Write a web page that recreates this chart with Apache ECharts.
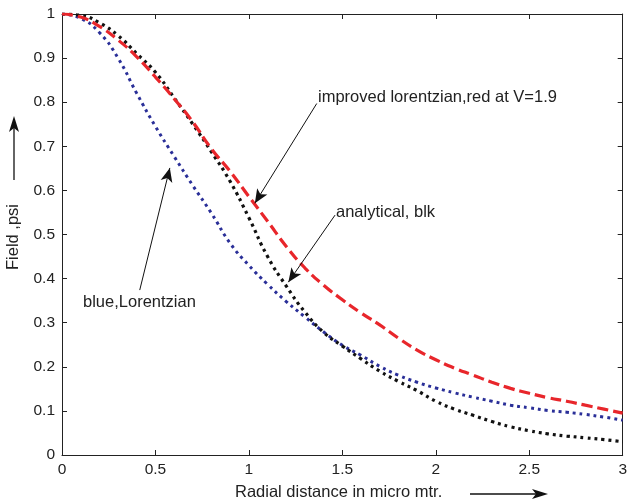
<!DOCTYPE html>
<html>
<head>
<meta charset="utf-8">
<script src="https://cdn.jsdelivr.net/npm/echarts@6/dist/echarts.min.js"></script>
<style>html,body{margin:0;padding:0;background:#fff}#c{width:630px;height:504px}</style>
</head>
<body>
<div id="c"></div>
<script>
const xValues = [0,0.1,0.2,0.3,0.4,0.5,0.6,0.7,0.8,0.9,1.0,1.1,1.2,1.3,1.4,1.5,1.6,1.7,1.8,1.9,2.0,2.1,2.2,2.3,2.4,2.5,2.6,2.7,2.8,2.9,3.0];
const blueLorentzian = [1.0,0.99,0.958,0.90,0.82,0.745,0.677,0.611,0.548,0.48,0.43,0.387,0.348,0.313,0.279,0.249,0.226,0.201,0.181,0.165,0.152,0.141,0.131,0.122,0.113,0.107,0.101,0.097,0.092,0.086,0.079];
const blackAnalytical = [1.0,0.997,0.98,0.951,0.91,0.868,0.81,0.75,0.687,0.62,0.538,0.45,0.383,0.324,0.278,0.247,0.218,0.19,0.167,0.146,0.122,0.104,0.09,0.076,0.064,0.055,0.048,0.043,0.039,0.035,0.03];
const redImproved = [1.0,0.993,0.972,0.941,0.903,0.857,0.808,0.755,0.694,0.643,0.586,0.53,0.473,0.424,0.385,0.352,0.322,0.295,0.265,0.238,0.216,0.197,0.181,0.165,0.151,0.14,0.13,0.122,0.113,0.104,0.095];
const xTicks = [0,0.5,1,1.5,2,2.5,3];
const yTicks = [0,0.1,0.2,0.3,0.4,0.5,0.6,0.7,0.8,0.9,1];
// annotation arrows in data coordinates: [from, to]
const arrowRed = [[1.363,0.797],[1.032,0.571]];
const arrowBlack = [[1.461,0.544],[1.211,0.392]];
const arrowBlue = [[0.416,0.374],[0.577,0.651]];
const texts = {
  red: 'improved lorentzian,red at V=1.9',
  black: 'analytical, blk',
  blue: 'blue,Lorentzian',
  xName: 'Radial distance in micro mtr.',
  yName: 'Field ,psi'
};

const pairs = (ys) => xValues.map((x,i)=>[x, ys[i]]);
const font = 'Liberation Sans, Arial, Helvetica, sans-serif';
const txt = '#222';
const tf = '16.5px ' + font;

const axisCommon = {
  axisLine: {show:true, onZero:false, lineStyle:{color:'#222', width:1}},
  axisTick: {show:true, inside:true, length:5, lineStyle:{color:'#222'}},
  splitLine: {show:false}
};

const chart = echarts.init(document.getElementById('c'), null, {renderer:'canvas'});
chart.setOption({
  animation:false,
  backgroundColor:'#fff',
  grid:{left:62, right:7, top:14, bottom:49, containLabel:false},
  xAxis:[
    Object.assign({type:'value', min:0, max:3, interval:0.5, position:'bottom',
      axisLabel:{color:txt, fontSize:15.5, fontFamily:font, margin:7}}, axisCommon),
    Object.assign({type:'value', min:0, max:3, interval:0.5, position:'top',
      axisLabel:{show:false}}, axisCommon)
  ],
  yAxis:[
    Object.assign({type:'value', min:0, max:1, interval:0.1, position:'left',
      axisLabel:{color:txt, fontSize:15.5, fontFamily:font, margin:7}}, axisCommon),
    Object.assign({type:'value', min:0, max:1, interval:0.1, position:'right',
      axisLabel:{show:false}}, axisCommon)
  ],
  series:[
    {type:'line', name:'blue', data:pairs(blueLorentzian), showSymbol:false, smooth:true,
      lineStyle:{color:'#2a2f98', width:3, type:[3,4], cap:'butt'}},
    {type:'line', name:'black', data:pairs(blackAnalytical), showSymbol:false, smooth:true,
      lineStyle:{color:'#111', width:3.2, type:[3,4], cap:'butt'}},
    {type:'line', name:'red', data:pairs(redImproved), showSymbol:false, smooth:true,
      lineStyle:{color:'#e8262b', width:3.2, type:[11,5], cap:'butt'},
      markLine:{silent:true, symbol:['none','arrow'], symbolSize:[9,14], animation:false,
        label:{show:false},
        lineStyle:{color:'#111', width:1, type:'solid'},
        emphasis:{disabled:true},
        data:[
          [{coord:arrowRed[0]},{coord:arrowRed[1]}],
          [{coord:arrowBlack[0]},{coord:arrowBlack[1]}],
          [{coord:arrowBlue[0]},{coord:arrowBlue[1]}]
        ]}}
  ],
  graphic:[
    {type:'text', x:318, y:97, style:{text:texts.red, font:tf, fill:txt, verticalAlign:'middle'}},
    {type:'text', x:336, y:212, style:{text:texts.black, font:tf, fill:txt, verticalAlign:'middle'}},
    {type:'text', x:83, y:302, style:{text:texts.blue, font:tf, fill:txt, verticalAlign:'middle'}},
    {type:'text', x:235, y:492, style:{text:texts.xName, font:tf, fill:txt, verticalAlign:'middle'}},
    {type:'text', x:13, y:237, rotation:Math.PI/2, style:{text:texts.yName, font:tf, fill:txt, align:'center', verticalAlign:'middle'}},
    {type:'line', shape:{x1:14, y1:180, x2:14, y2:122}, style:{stroke:'#111', lineWidth:1.3}},
    {type:'polygon', shape:{points:[[14,116],[9,132],[14,128],[19,132]]}, style:{fill:'#111'}},
    {type:'line', shape:{x1:470, y1:494, x2:542, y2:494}, style:{stroke:'#111', lineWidth:1.3}},
    {type:'polygon', shape:{points:[[548,494],[532,489],[536,494],[532,499]]}, style:{fill:'#111'}}
  ]
});
</script>
</body>
</html>
